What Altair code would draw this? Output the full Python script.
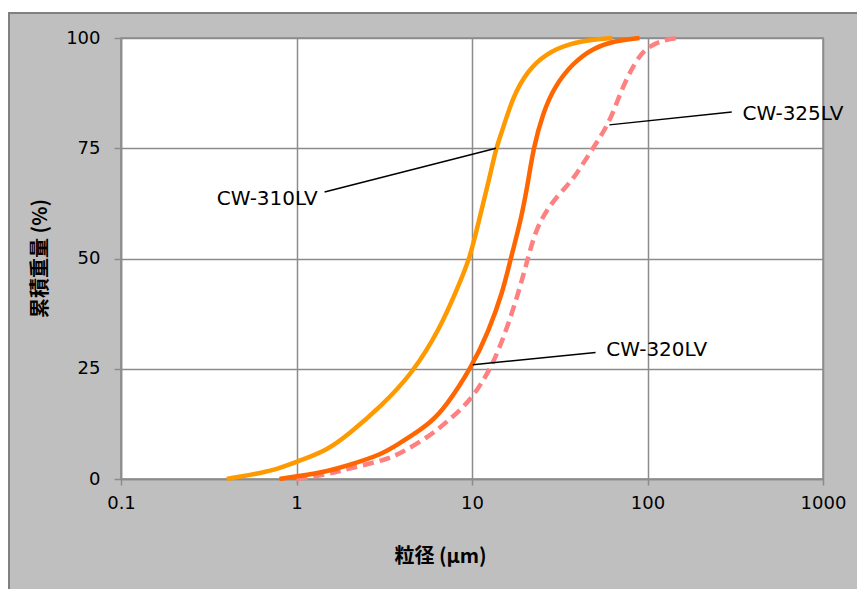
import altair as alt
import pandas as pd

# ---- data ----
d310_x = [0.40, 0.54, 0.75, 1.0, 1.5, 2.0, 3.0, 4.6, 6.6, 8.1, 9.75, 11.0, 12.5, 13.7, 14.9, 17.1, 20.8, 26.5, 36, 50, 63]
d310_y = [0, 0.9, 2.0, 3.9, 6.5, 10.3, 16.3, 24, 34.3, 42.5, 50, 59, 67.8, 75, 79, 86.7, 92.7, 96.5, 98.8, 99.7, 100]

d320_x = [0.80, 1.0, 1.5, 2.0, 3.0, 3.9, 4.6, 5.8, 7.1, 10, 12.4, 15.0, 16.6, 19.1, 21.0, 22.4, 25.3, 29.5, 37.5, 48.8, 65, 90]
d320_y = [0, 0.6, 1.7, 3.2, 5.4, 8.2, 10.0, 12.8, 16.4, 25.5, 33.4, 42.5, 50, 59, 68, 75, 82.9, 89, 94.3, 97.7, 99.4, 100]

d325_x = [1.0, 1.5, 2.0, 3.2, 3.9, 5.7, 7.4, 9.7, 12.9, 15.8, 18.7, 20.8, 23.2, 27.7, 34.4, 38.8, 48.8, 60.7, 70.8, 84.3, 98.4, 128, 150]
d325_y = [0, 1.0, 2.4, 4.3, 5.8, 9.6, 13.4, 17.5, 25.1, 34, 43.2, 50, 56.8, 62.1, 66.3, 68.7, 75, 80.7, 88.2, 94.3, 98, 99.7, 100]

series_names = ["CW-310LV", "CW-320LV", "CW-325LV"]
series_colors = ["#FF9900", "#FF6600", "#FF8080"]

# annotation leader lines (start on curve -> end near label)
ann_x1 = [13.7, 10.1, 60.7]
ann_y1 = [75, 25.9, 80.3]
ann_x2 = [1.445, 50.6, 302]
ann_y2 = [65.1, 28.7, 83.2]

lab_text = ["CW-310LV", "CW-320LV", "CW-325LV"]
lab_x = [1.32, 58.2, 347.8]
lab_y = [63.6, 29.25, 82.8]
lab_align = ["right", "left", "left"]

x_ticks = [0.1, 1, 10, 100, 1000]
y_ticks = [0, 25, 50, 75, 100]

# ---- tables ----
rows = []
for name, xs, ys in zip(series_names, [d310_x, d320_x, d325_x], [d310_y, d320_y, d325_y]):
    for i, (xv, yv) in enumerate(zip(xs, ys)):
        rows.append({"series": name, "x": xv, "y": yv, "order": i})
df = pd.DataFrame(rows)

ann = pd.DataFrame({"x": ann_x1, "y": ann_y1, "x2": ann_x2, "y2": ann_y2})
labs = pd.DataFrame({"x": lab_x, "y": lab_y, "text": lab_text, "align": lab_align})

GRID = "#8C8C8C"

xscale = alt.Scale(type="log", domain=[0.1, 1000])
yscale = alt.Scale(domain=[0, 100])

xaxis = alt.Axis(
    values=x_ticks, format="~g", title="粒径 (µm)",
    grid=True, gridColor=GRID, gridWidth=1.5,
    domainColor=GRID, domainWidth=1.5,
    tickColor=GRID, tickWidth=1.5, tickSize=6,
    labelFont="DejaVu Sans", labelFontSize=18, labelColor="black", labelPadding=9,
    labelFlush=False, labelOverlap=False,
    titleFont="Noto Sans CJK JP", titleFontSize=20, titleFontWeight="bold", titleColor="black",
    titleX=319, titleY=77, titleAlign="center", titleBaseline="middle",
)
yaxis = alt.Axis(
    values=y_ticks, title="累積重量 (%)",
    grid=True, gridColor=GRID, gridWidth=1.5,
    domainColor=GRID, domainWidth=1.5,
    tickColor=GRID, tickWidth=1.5, tickSize=7,
    labelFont="DejaVu Sans", labelFontSize=18, labelColor="black", labelPadding=14,
    labelFlush=False, labelOverlap=False,
    titleFont="Noto Sans CJK JP", titleFontSize=20, titleFontWeight="bold", titleColor="black",
    titleX=-81, titleY=220, titleAngle=270, titleAlign="center", titleBaseline="middle",
)

X = alt.X("x:Q", scale=xscale, axis=xaxis)
Y = alt.Y("y:Q", scale=yscale, axis=yaxis)


def curve(name, color, dash=False):
    kw = dict(color=color, strokeWidth=4.5, interpolate="basis")
    if dash:
        kw["strokeDash"] = [11, 6]
    return (
        alt.Chart(df)
        .transform_filter(alt.datum.series == name)
        .mark_line(**kw)
        .encode(x=X, y=Y, order="order:Q")
    )


deco = pd.DataFrame({"a": [0]})
white_strip = alt.Chart(deco).mark_rect(color="white").encode(
    x=alt.value(-113), x2=alt.value(760), y=alt.value(-30), y2=alt.value(-26)
)
frame = alt.Chart(deco).mark_rect(fillOpacity=0, stroke="#808080", strokeWidth=2).encode(
    x=alt.value(-112), x2=alt.value(780), y=alt.value(-25), y2=alt.value(620)
)

leaders = alt.Chart(ann).mark_rule(color="black", strokeWidth=1.5).encode(
    x=X, y=Y, x2="x2:Q", y2="y2:Q"
)

txt_r = alt.Chart(labs).transform_filter(alt.datum.align == "right").mark_text(
    font="DejaVu Sans", fontSize=20, color="black", align="right", baseline="middle"
).encode(x=X, y=Y, text="text:N")
txt_l = alt.Chart(labs).transform_filter(alt.datum.align == "left").mark_text(
    font="DejaVu Sans", fontSize=20, color="black", align="left", baseline="middle"
).encode(x=X, y=Y, text="text:N")

chart = (
    alt.layer(
        white_strip, frame,
        curve("CW-325LV", series_colors[2], dash=True),
        curve("CW-310LV", series_colors[0]),
        curve("CW-320LV", series_colors[1]),
        leaders, txt_r, txt_l,
    )
    .properties(
        width=702, height=441,
        autosize=alt.AutoSizeParams(type="none"),
        padding={"left": 113, "top": 30, "right": 34, "bottom": 110},
        background="#BFBFBF",
    )
    .configure_view(fill="white", stroke=GRID, strokeWidth=1.5)
)

chart.save("out.html", embed_options={"renderer": "svg", "actions": False})
